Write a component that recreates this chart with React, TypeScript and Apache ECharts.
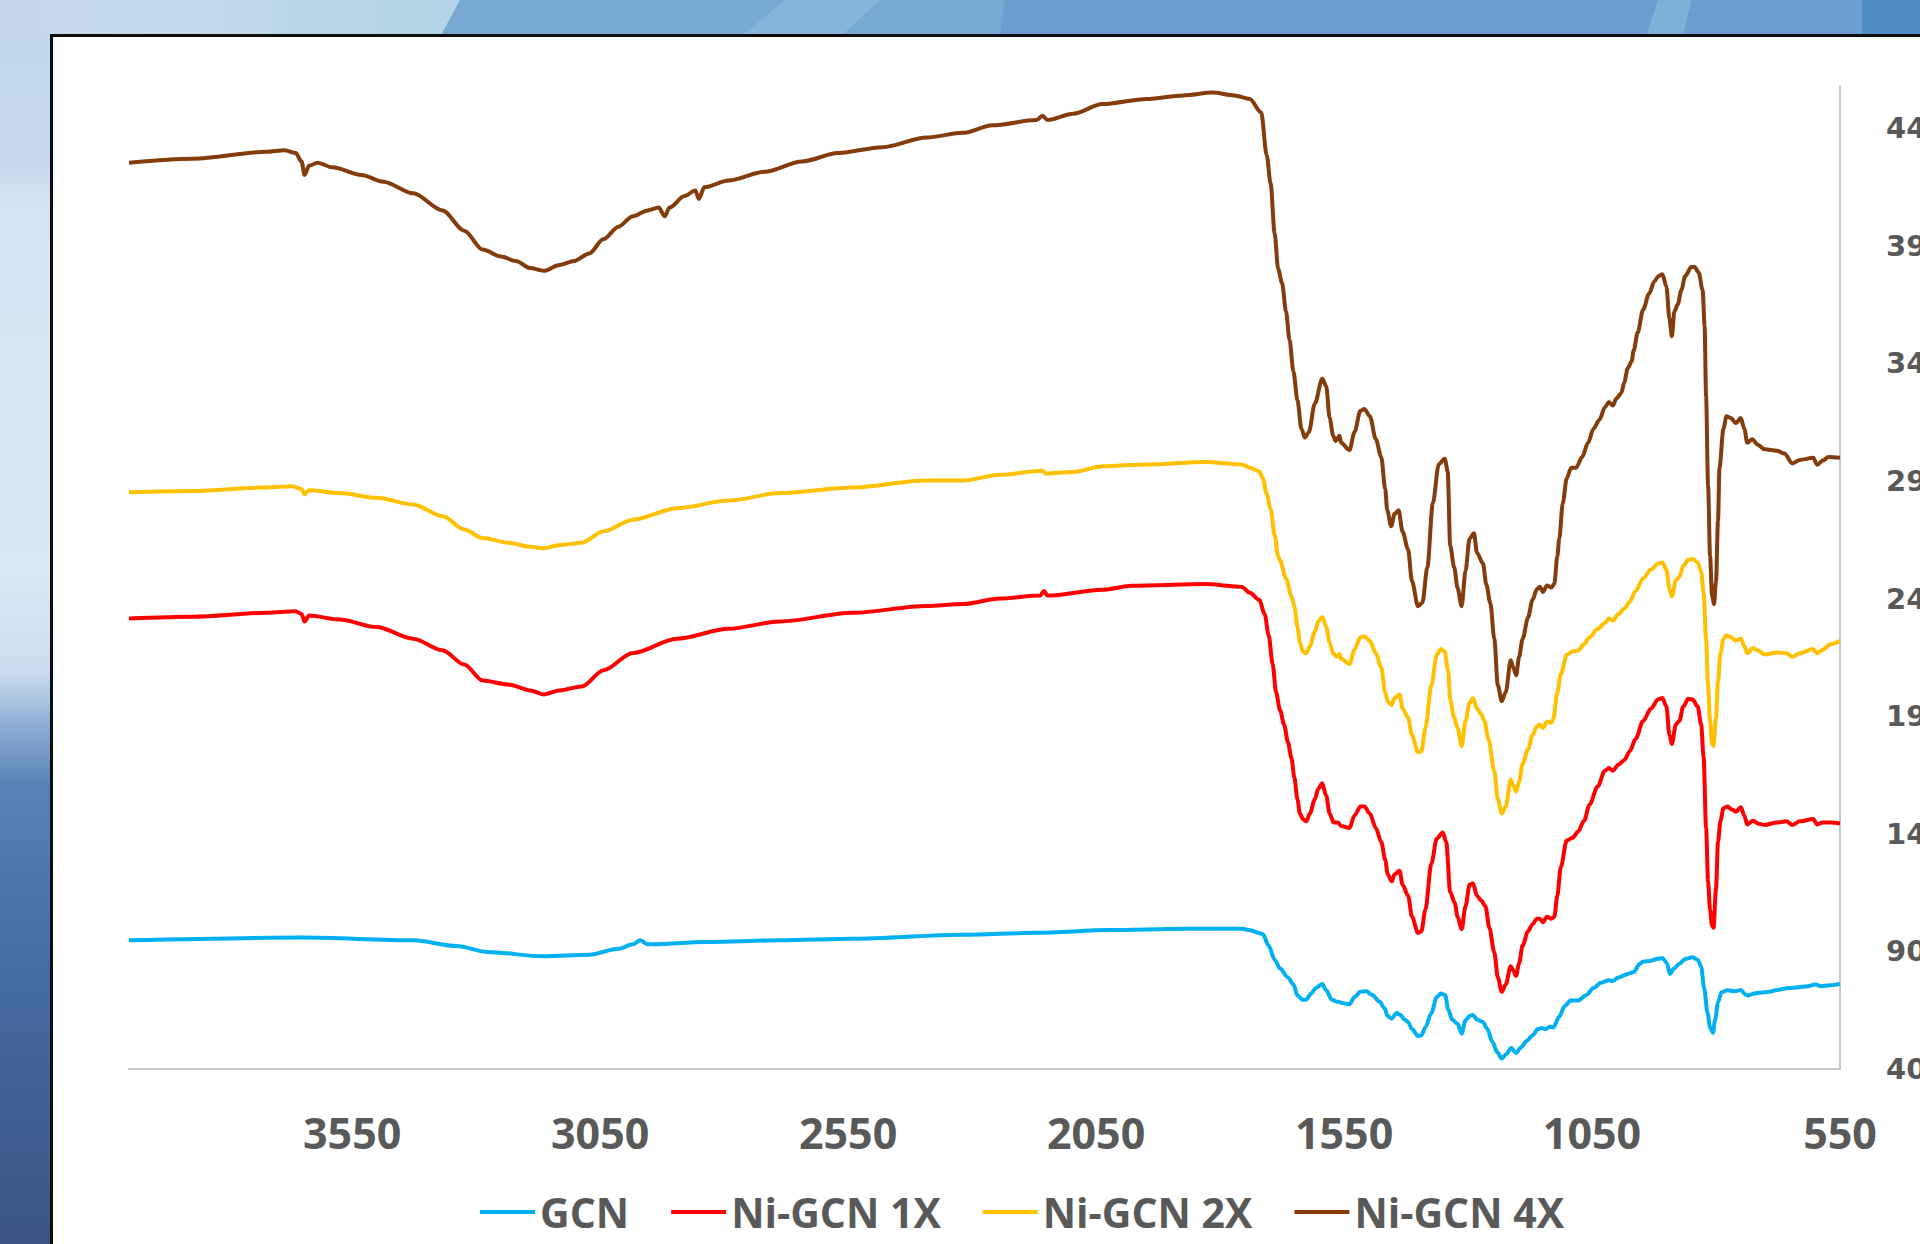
import React, { useEffect, useRef } from "react";
import * as echarts from "echarts";

// FTIR spectra: [wavenumber (cm-1), transmittance (offset)]
const gcn: [number, number][] = [
  [4000, 94.7], [3649, 95.9], [3427, 94.7], [3339, 92.3], [3279, 89.8], [3164, 87.9], [3072, 88.6], [3013, 91.1],
  [2984, 93], [2969, 94.7], [2954, 93], [2836, 94], [2688, 94.7], [2540, 95.4], [2318, 97.1], [2170, 97.9],
  [2022, 99.1], [1874, 99.6], [1756, 99.6], [1740, 99], [1714, 97.4], [1702, 92.5], [1690, 86.5], [1679, 82.7],
  [1663, 78.9], [1652, 75.9], [1644, 71.3], [1634, 69.5], [1626, 69.5], [1617, 72], [1606, 74.6], [1594, 76.1],
  [1586, 73.6], [1575, 69.5], [1563, 68.6], [1552, 68], [1539, 67.5], [1529, 70.6], [1517, 72.8], [1505, 73.1],
  [1494, 71.6], [1478, 68.6], [1469, 66], [1462, 62.5], [1454, 61.5], [1444, 63.8], [1436, 63], [1428, 61],
  [1421, 60], [1413, 57], [1401, 54], [1394, 54.4], [1386, 57.7], [1374, 63.8], [1363, 70.6], [1355, 72.1],
  [1346, 71.4], [1340, 65.3], [1332, 61], [1321, 59.2], [1313, 55], [1305, 60.7], [1297, 62.5], [1290, 63],
  [1282, 61], [1270, 60], [1261, 57], [1251, 51.6], [1241, 47.1], [1232, 44.4], [1223, 46.3], [1213, 48.9],
  [1203, 46.8], [1193, 49.3], [1182, 51.9], [1170, 54.4], [1159, 57], [1151, 57.4], [1143, 57], [1136, 58],
  [1128, 57.7], [1116, 62.3], [1105, 66.8], [1093, 69.1], [1078, 69.1], [1062, 71.4], [1047, 74.4], [1032, 76.7],
  [1016, 77.7], [1008, 77.4], [997, 78.9], [978, 80.4], [966, 81.2], [954, 84.7], [947, 85.7], [931, 86],
  [920, 86.8], [908, 87.2], [899, 85], [893, 80.4], [885, 82.7], [874, 84.7], [862, 86.8], [848, 87.5],
  [837, 86.5], [830, 83.5], [824, 74.4], [817, 63.8], [812, 57.7], [806, 55.4], [802, 60.7], [796, 68.3],
  [789, 72.6], [777, 73.5], [762, 73.1], [750, 73.6], [740, 71.6], [735, 71.3], [723, 72.1], [708, 72.5],
  [693, 72.8], [677, 73.6], [654, 74.4], [638, 74.7], [615, 75.2], [600, 75.9], [588, 75.2], [569, 75.6], [550, 76.2],
];

const niGcn1x: [number, number][] = [
  [4000, 231.6], [3871, 232.3], [3723, 234], [3664, 234.7], [3652, 233.5], [3646, 230.3], [3637, 232.8], [3575, 231.1],
  [3501, 227.9], [3427, 223], [3368, 218.1], [3324, 212], [3287, 205.2], [3235, 203.5], [3191, 201], [3164, 199.3],
  [3132, 201], [3087, 202.7], [3043, 209.6], [2984, 216.9], [2895, 223], [2791, 227.2], [2688, 230.3], [2540, 234],
  [2392, 236.9], [2318, 237.7], [2244, 240.1], [2163, 241.3], [2155, 243.3], [2148, 241.3], [2037, 243.8], [1978, 245.5],
  [1830, 246.2], [1756, 245], [1740, 242.5], [1721, 239.5], [1710, 233.4], [1702, 224.4], [1694, 212.2], [1687, 200.1],
  [1679, 192.5], [1671, 186.5], [1663, 178.9], [1656, 172.1], [1650, 163.7], [1644, 154.7], [1639, 148.6], [1633, 146.3],
  [1626, 145.3], [1619, 148.6], [1609, 154.7], [1602, 159.2], [1594, 161.5], [1586, 156.2], [1579, 148.6], [1571, 144.8],
  [1562, 144.8], [1556, 143.3], [1539, 142.5], [1529, 147.8], [1517, 151.6], [1509, 151.6], [1498, 148.6], [1486, 142.5],
  [1475, 136.5], [1467, 128.9], [1462, 122.8], [1454, 119.8], [1448, 122.8], [1438, 124.3], [1432, 118.3], [1421, 113.7],
  [1413, 104.7], [1401, 97.9], [1394, 98.6], [1386, 107.7], [1374, 127.4], [1363, 138], [1351, 140.6], [1344, 136.5],
  [1336, 115.3], [1327, 110.7], [1321, 104.7], [1313, 99.4], [1305, 109.2], [1297, 118.3], [1290, 119], [1282, 113.7],
  [1273, 111.5], [1265, 109.2], [1257, 100.1], [1247, 89.5], [1240, 79], [1232, 72.8], [1224, 75.9], [1214, 83.7],
  [1209, 81.9], [1203, 79.6], [1197, 85], [1190, 92.5], [1179, 98.6], [1170, 101.6], [1161, 103.9], [1155, 103.9],
  [1149, 102.4], [1141, 104.7], [1132, 103.9], [1126, 104.7], [1120, 113.7], [1113, 125.9], [1101, 137.2], [1089, 138.3],
  [1078, 141], [1066, 145.6], [1055, 152.4], [1039, 160], [1024, 166.8], [1016, 168], [1008, 166.8], [997, 169.4],
  [985, 171.3], [974, 175.1], [962, 180.4], [947, 188], [931, 193.3], [917, 197.1], [908, 197.8], [900, 194.1],
  [894, 182], [889, 178.2], [881, 186.5], [874, 188], [866, 194.1], [856, 197.4], [847, 197.1], [837, 194.1],
  [830, 186.5], [825, 172.8], [820, 142.5], [816, 119.8], [812, 107.7], [808, 100.9], [805, 100.1], [800, 116.8],
  [796, 136.5], [791, 145.6], [785, 150.9], [777, 151.6], [768, 150.4], [760, 149.4], [750, 151.3], [743, 147.8],
  [737, 144], [725, 145.6], [716, 144.4], [702, 143.8], [677, 144.8], [658, 145.3], [646, 143.8], [631, 145.3],
  [604, 146.3], [596, 144], [585, 144.8], [569, 144.8], [550, 144.4],
];

const niGcn2x: [number, number][] = [
  [4000, 285.3], [3871, 285.8], [3723, 287.3], [3671, 287.8], [3652, 286.6], [3646, 284.4], [3637, 286.1], [3575, 284.9],
  [3501, 282.9], [3427, 280], [3368, 275.1], [3324, 269.4], [3287, 265.8], [3235, 263.8], [3191, 262.1], [3164, 261.4],
  [3132, 262.8], [3087, 263.8], [3043, 268.7], [2984, 273.6], [2895, 278.5], [2791, 281.7], [2688, 284.9], [2540, 287.3],
  [2392, 290.2], [2318, 290.2], [2244, 292.7], [2158, 294.4], [2152, 293.2], [2096, 293.9], [2037, 296.3], [1948, 297.1],
  [1830, 298.1], [1756, 297.1], [1740, 295.7], [1721, 294.2], [1714, 291.2], [1706, 284.5], [1698, 278], [1690, 267],
  [1683, 258], [1679, 256.2], [1667, 248.6], [1656, 241], [1650, 236.5], [1644, 228.1], [1639, 221.3], [1633, 217.5],
  [1626, 216.8], [1619, 219.8], [1609, 225.9], [1602, 230.4], [1594, 232.2], [1586, 228.1], [1579, 221.3], [1572, 216.8],
  [1565, 215.3], [1559, 216.5], [1556, 214.5], [1539, 212.2], [1529, 218.3], [1517, 223.6], [1509, 224], [1498, 222.1],
  [1486, 216.8], [1475, 210.7], [1467, 200.1], [1462, 196.3], [1454, 194.8], [1448, 197.8], [1438, 199.3], [1432, 193.3],
  [1421, 189.5], [1413, 182], [1401, 174.7], [1394, 175.1], [1386, 185], [1374, 203.2], [1363, 216.1], [1355, 218.6],
  [1347, 217.5], [1340, 209.2], [1336, 197.1], [1328, 189.5], [1321, 185], [1313, 177.4], [1305, 188], [1297, 195.6],
  [1290, 197.8], [1282, 193.3], [1274, 191], [1267, 188], [1259, 180.4], [1247, 166.8], [1240, 154.7], [1232, 148.6],
  [1224, 151.6], [1214, 163], [1209, 160.7], [1203, 158], [1197, 162.2], [1190, 169.8], [1179, 175.9], [1170, 182],
  [1161, 185.7], [1155, 186.5], [1149, 185], [1141, 187.7], [1132, 187.2], [1128, 188.8], [1120, 200.1], [1113, 207.7],
  [1101, 216.1], [1089, 217.5], [1078, 218], [1066, 220.6], [1055, 223.6], [1039, 227.1], [1024, 229.6], [1016, 231.6],
  [1008, 230.7], [997, 233.4], [985, 235.7], [974, 238.7], [962, 243.3], [947, 248.6], [931, 252.4], [916, 255],
  [908, 255.4], [900, 252.4], [894, 244.1], [889, 241], [881, 247.8], [874, 249.3], [866, 253.9], [856, 256.5],
  [847, 256.9], [837, 255.4], [830, 251.6], [825, 242.5], [820, 222.8], [816, 203.2], [812, 188], [808, 178.1],
  [805, 177.4], [800, 189.5], [796, 204.7], [791, 216.8], [785, 222.8], [779, 224.4], [770, 223.6], [760, 222.1],
  [750, 223.1], [743, 219.8], [737, 216.8], [725, 219], [716, 218], [702, 216.3], [677, 217.1], [658, 216.8],
  [646, 215.3], [631, 216.8], [604, 218.6], [596, 216.8], [585, 218.3], [569, 220.6], [550, 222.1],
];

const niGcn4x: [number, number][] = [
  [4000, 425.4], [3871, 427.1], [3723, 430], [3686, 430.7], [3664, 429.5], [3652, 425.9], [3646, 420.2], [3637, 424.1],
  [3620, 425.4], [3590, 423.4], [3531, 420.2], [3487, 417.3], [3427, 412.4], [3368, 405.1], [3324, 396.5], [3287, 388.5],
  [3250, 385.5], [3220, 383.6], [3191, 380.6], [3164, 379.4], [3132, 381.9], [3102, 383.6], [3072, 386.8], [3043, 392.9],
  [3013, 398.2], [2984, 402.6], [2954, 405.1], [2932, 406.3], [2920, 402.6], [2910, 406.3], [2880, 411.2], [2858, 413.6],
  [2851, 410], [2840, 414.9], [2791, 417.8], [2718, 421.5], [2643, 425.9], [2570, 429.5], [2481, 432], [2392, 436.1],
  [2318, 438.1], [2259, 441.3], [2170, 443.5], [2158, 445.4], [2148, 443.5], [2096, 446.2], [2037, 450.3], [1948, 452.5],
  [1874, 454], [1815, 455.2], [1771, 454], [1740, 452.5], [1717, 446.7], [1706, 428.6], [1698, 416.5], [1690, 395.4],
  [1683, 380.3], [1675, 374.2], [1667, 362.1], [1660, 350.1], [1652, 336.5], [1644, 324.4], [1636, 312.3], [1629, 308.5],
  [1621, 310.8], [1609, 322.9], [1594, 333.5], [1586, 330.4], [1579, 316.8], [1572, 309.3], [1567, 307], [1559, 309.3],
  [1556, 306.3], [1539, 303.2], [1529, 310.8], [1517, 319.9], [1509, 320.6], [1498, 317.6], [1486, 307.8], [1475, 300.2],
  [1467, 286.6], [1463, 277.6], [1455, 270.8], [1448, 276.1], [1440, 277.6], [1432, 268.5], [1421, 261], [1413, 247.4],
  [1401, 236.8], [1392, 238.3], [1382, 253.4], [1371, 280.6], [1359, 297.2], [1347, 299.5], [1341, 294.2], [1336, 262.5],
  [1328, 253.4], [1321, 244.4], [1313, 236.8], [1305, 251.9], [1297, 265.5], [1288, 267.8], [1282, 259.5], [1270, 255],
  [1263, 245.9], [1255, 238], [1247, 222.9], [1240, 203.2], [1232, 196.4], [1224, 200.2], [1214, 213.8], [1209, 210.8],
  [1203, 207.4], [1197, 215.3], [1190, 222.9], [1179, 232], [1170, 239.5], [1161, 244.1], [1155, 245.1], [1149, 242.8],
  [1141, 245.6], [1132, 244.8], [1126, 246.3], [1120, 258], [1116, 265.5], [1109, 280.6], [1101, 291.2], [1092, 295.7],
  [1082, 295.7], [1070, 300.2], [1058, 306.3], [1047, 312.3], [1035, 316.1], [1024, 321.4], [1016, 323.6], [1008, 322.1],
  [1001, 325.1], [991, 327.4], [985, 332], [978, 338], [970, 341], [966, 345.5], [958, 353.1], [947, 362.9],
  [935, 369.7], [924, 375], [916, 377.2], [908, 378], [900, 372.7], [894, 359.1], [889, 351.6], [884, 362.1],
  [877, 365.2], [870, 371.2], [862, 377.2], [850, 381], [843, 381], [835, 378.7], [827, 371.2], [823, 356.1],
  [820, 325.9], [816, 288.2], [812, 258], [808, 241.3], [804, 237.6], [800, 247.4], [796, 273.1], [793, 295.7],
  [785, 312.3], [779, 317.6], [770, 316.8], [760, 314.6], [750, 316.8], [743, 312.3], [737, 306.3], [727, 307.8],
  [716, 305.5], [702, 303.5], [677, 302.9], [662, 301.7], [646, 297.5], [631, 299], [604, 299.9], [596, 296.9],
  [585, 298.7], [573, 300.2], [550, 299.9],
];

const seriesNames = ["GCN", "Ni-GCN 1X", "Ni-GCN 2X", "Ni-GCN 4X"];
const seriesColors = ["#00B0F0", "#FF0000", "#FFC000", "#843C0C"];
const seriesData = [gcn, niGcn1x, niGcn2x, niGcn4x];

const xTicks = [550, 1050, 1550, 2050, 2550, 3050, 3550];
const yTicks = [40, 90, 140, 190, 240, 290, 340, 390, 440];

const labelColor = "#595959";
const axisGray = "#c8c8c8";
const plainNumber = (v: number) => String(v);

export default function App() {
  const ref = useRef<HTMLDivElement>(null);

  useEffect(() => {
    if (!ref.current) return;
    const chart = echarts.init(ref.current, null, { renderer: "svg" });

    const LG = echarts.graphic.LinearGradient;

    // slide backdrop behind the white chart panel
    const backdrop: any[] = [
      {
        type: "rect",
        z: -30,
        silent: true,
        shape: { x: 0, y: 0, width: 52, height: 1244 },
        style: {
          fill: new LG(0, 0, 0, 1, [
            { offset: 0, color: "#c2d7ea" },
            { offset: 0.13, color: "#c6daec" },
            { offset: 0.17, color: "#d5e4f2" },
            { offset: 0.46, color: "#dae8f4" },
            { offset: 0.54, color: "#cbdcee" },
            { offset: 0.58, color: "#90b1d5" },
            { offset: 0.63, color: "#5a82b6" },
            { offset: 0.76, color: "#476ea5" },
            { offset: 1, color: "#3a5484" },
          ]),
        },
      },
      {
        type: "rect",
        z: -29,
        silent: true,
        shape: { x: 0, y: 0, width: 470, height: 37 },
        style: {
          fill: new LG(0, 0, 1, 0, [
            { offset: 0, color: "#c4d8ea" },
            { offset: 0.55, color: "#c3d9ea" },
            { offset: 0.62, color: "#b7d6e7" },
            { offset: 1, color: "#b3d4e6" },
          ]),
        },
      },
      {
        type: "polygon",
        z: -28,
        silent: true,
        shape: { points: [[460, 0], [1920, 0], [1920, 37], [440, 37]] },
        style: { fill: "#78a9d3" },
      },
      {
        type: "polygon",
        z: -27,
        silent: true,
        shape: { points: [[785, 0], [880, 0], [840, 37], [740, 37]] },
        style: { fill: "#88b4d9" },
      },
      {
        type: "polygon",
        z: -27,
        silent: true,
        shape: { points: [[1005, 0], [1920, 0], [1920, 37], [1000, 37]] },
        style: { fill: "#6b9fcf" },
      },
      {
        type: "polygon",
        z: -26,
        silent: true,
        shape: { points: [[1658, 0], [1692, 0], [1682, 37], [1646, 37]] },
        style: { fill: "#7eafd7" },
      },
      {
        type: "rect",
        z: -26,
        silent: true,
        shape: { x: 1862, y: 0, width: 58, height: 37 },
        style: { fill: "#4f8bc6" },
      },
      {
        type: "rect",
        z: -20,
        silent: true,
        shape: { x: 51.5, y: 35.5, width: 1950, height: 1300 },
        style: { fill: "#ffffff", stroke: "#0d0d0d", lineWidth: 3 },
      },
    ];

    chart.setOption({
      animation: false,
      backgroundColor: "transparent",
      graphic: backdrop,
      grid: {
        left: 129,
        right: 80,
        top: 86,
        bottom: 175,
        containLabel: false,
        outerBoundsMode: "none",
      },
      legend: {
        data: seriesNames,
        icon: "rect",
        left: 480,
        top: 1191,
        padding: 0,
        itemWidth: 55,
        itemHeight: 4,
        itemGap: 42,
        textStyle: {
          color: labelColor,
          fontFamily: '"Open Sans", "Noto Sans", sans-serif',
          fontWeight: "bold",
          fontSize: 41,
          lineHeight: 42,
        },
      },
      xAxis: {
        type: "value",
        inverse: true,
        min: 550,
        max: 4000,
        axisLine: { show: true, onZero: false, lineStyle: { color: axisGray, width: 2 } },
        axisTick: { show: false },
        splitLine: { show: false },
        axisLabel: {
          customValues: xTicks,
          formatter: plainNumber,
          margin: 42,
          color: labelColor,
          fontFamily: '"Open Sans", "Noto Sans", sans-serif',
          fontWeight: "bold",
          fontSize: 43,
          lineHeight: 43,
        },
      },
      yAxis: {
        type: "value",
        position: "right",
        min: 40,
        max: 458,
        axisLine: { show: true, onZero: false, lineStyle: { color: axisGray, width: 2 } },
        axisTick: { show: false },
        splitLine: { show: false },
        axisLabel: {
          customValues: yTicks,
          formatter: plainNumber,
          margin: 46,
          align: "left",
          color: labelColor,
          fontFamily: '"DejaVu Sans", sans-serif',
          fontWeight: "bold",
          fontSize: 29,
        },
      },
      series: seriesData.map((d, i) => ({
        type: "line",
        name: seriesNames[i],
        data: d,
        symbol: "none",
        smooth: 0.3,
        smoothMonotone: "x",
        color: seriesColors[i],
        lineStyle: { width: 4, color: seriesColors[i] },
        itemStyle: { color: seriesColors[i] },
        emphasis: { disabled: true },
      })),
    });

    return () => chart.dispose();
  }, []);

  return (
    <div
      ref={ref}
      style={{ position: "absolute", left: 0, top: 0, width: 1920, height: 1244 }}
    />
  );
}
